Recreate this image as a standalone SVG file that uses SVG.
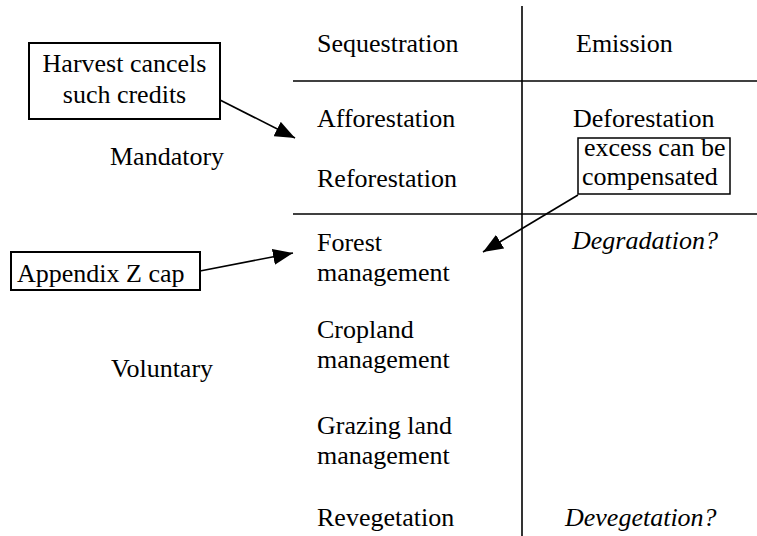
<svg xmlns="http://www.w3.org/2000/svg" width="757" height="536" viewBox="0 0 757 536">
<defs>
<style>
text{font-family:"Liberation Serif","Times New Roman",serif;font-size:26px;fill:#000}
.it{font-style:italic}
.box{fill:#fff;stroke:#000;stroke-width:2}
.thin{stroke-width:1.5}
.rule{stroke:#000;stroke-width:1.6;fill:none}
.conn{stroke:#000;stroke-width:1.6;fill:none;marker-end:url(#ah)}
</style>
<marker id="ah" viewBox="0 0 20 16" refX="20" refY="8" markerWidth="20" markerHeight="16" markerUnits="userSpaceOnUse" orient="auto">
<path d="M0,0 L20,8 L0,16 z" fill="#000"/>
</marker>
</defs>
<rect width="757" height="536" fill="#fff"/>
<g id="table">
<line class="rule" x1="522" y1="6" x2="522" y2="536"/>
<line class="rule" x1="293" y1="81" x2="757" y2="81"/>
<line class="rule" x1="293" y1="214" x2="757" y2="214"/>
</g>
<g id="headers">
<text x="317" y="52">Sequestration</text>
<text x="576" y="52">Emission</text>
</g>
<g id="rows">
<text x="110" y="165">Mandatory</text>
<text x="111" y="377">Voluntary</text>
<text x="317" y="127">Afforestation</text>
<text x="573" y="127">Deforestation</text>
<text x="317" y="187">Reforestation</text>
<text x="317" y="251">Forest</text>
<text x="317" y="281">management</text>
<text class="it" x="572" y="249">Degradation?</text>
<text x="317" y="338">Cropland</text>
<text x="317" y="368">management</text>
<text x="317" y="434">Grazing land</text>
<text x="317" y="464">management</text>
<text x="317" y="526">Revegetation</text>
<text class="it" x="565" y="526">Devegetation?</text>
</g>
<g id="harvest">
<rect class="box" x="29" y="43" width="191" height="76"/>
<text x="124.5" y="72" text-anchor="middle">Harvest cancels</text>
<text x="124.5" y="103" text-anchor="middle">such credits</text>
</g>
<g id="excess">
<rect class="box thin" x="578" y="138" width="152" height="56"/>
<text x="584" y="156">excess can be</text>
<text x="582" y="185">compensated</text>
</g>
<g id="appendix">
<rect class="box" x="11" y="252" width="189" height="38"/>
<text x="17" y="282">Appendix Z cap</text>
</g>
<g id="connectors">
<line class="conn" x1="220" y1="100" x2="295" y2="138"/>
<line class="conn" x1="578" y1="195" x2="483" y2="252"/>
<line class="conn" x1="200" y1="271" x2="293" y2="253"/>
</g>
</svg>
